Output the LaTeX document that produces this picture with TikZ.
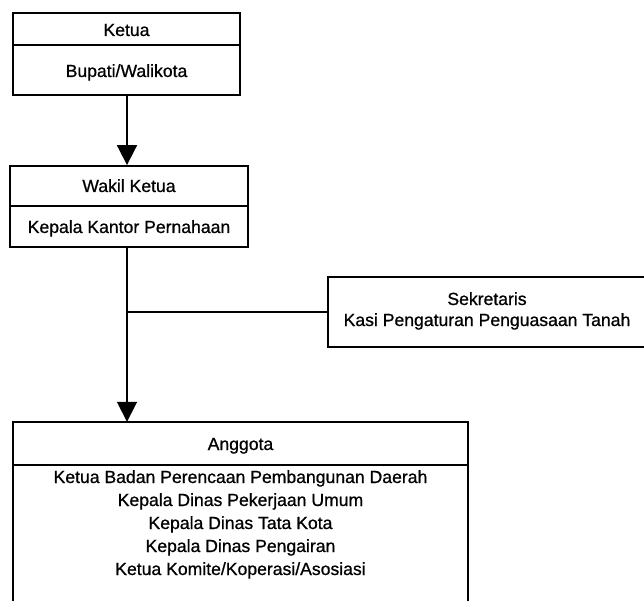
\documentclass[tikz,border=0pt]{standalone}
\usepackage{fontspec}
\setmainfont{Liberation Sans}[FakeBold=0.8]
\usetikzlibrary{arrows.meta}
\begin{document}
\begin{tikzpicture}[x=1pt,y=-1pt,
  frame/.style={draw=black, line width=1.8pt, inner sep=0pt},
  hold/.style={inner sep=0pt},
  lbl/.style={font=\fontsize{17.6}{22}\selectfont, anchor=base, inner sep=0pt},
  link/.style={line width=1.8pt},
  flow/.style={link, -{Triangle[width=20pt,length=20pt]}}]
\clip (0,0) rectangle (644,601);
\fill[white] (0,0) rectangle (644,601);

% Ketua
\node[frame, minimum width=227pt, minimum height=82pt] (ketua) at (126.5,54) {};
\draw[link] (ketua.north west) ++(0,33) -- ++(227,0);
\node[lbl] (ketuaT) at (126.5,36) {Ketua};
\node[lbl] (ketuaB) at (126.5,77) {Bupati/Walikota};

% Wakil Ketua
\node[frame, minimum width=238pt, minimum height=81pt] (wakil) at (129,206.5) {};
\draw[link] (wakil.north west) ++(0,41) -- ++(238,0);
\node[lbl] (wakilT) at (129,192) {Wakil Ketua};
\node[lbl] (wakilB) at (129,233) {Kepala Kantor Pernahaan};

% Sekretaris
\node[frame, minimum width=318pt, minimum height=70pt] (sek) at (487,312) {};
\node[lbl] (sekT) at (487,305) {Sekretaris};
\node[lbl] (sekB) at (487,326) {Kasi Pengaturan Penguasaan Tanah};

% Anggota (open at the bottom)
\node[hold, minimum width=455pt, minimum height=200pt] (angg) at (240.5,522) {};
\draw[link] (angg.south west) |- (angg.north east) -- (angg.south east);
\draw[link] (angg.north west) ++(0,43) -- ++(455,0);
\node[lbl] (anggT) at (240.5,450) {Anggota};
\node[lbl] (a1) at (240.5,483) {Ketua Badan Perencaan Pembangunan Daerah};
\node[lbl] (a2) at (240.5,506) {Kepala Dinas Pekerjaan Umum};
\node[lbl] (a3) at (240.5,529) {Kepala Dinas Tata Kota};
\node[lbl] (a4) at (240.5,552) {Kepala Dinas Pengairan};
\node[lbl] (a5) at (240.5,575) {Ketua Komite/Koperasi/Asosiasi};

% connectors
\coordinate (branch) at (127,312);
\draw[flow] (ketua.south -| branch) -- (wakil.north -| branch);
\draw[flow] (wakil.south -| branch) -- (angg.north -| branch);
\draw[link] (branch) -- (sek.west);
\end{tikzpicture}
\end{document}
